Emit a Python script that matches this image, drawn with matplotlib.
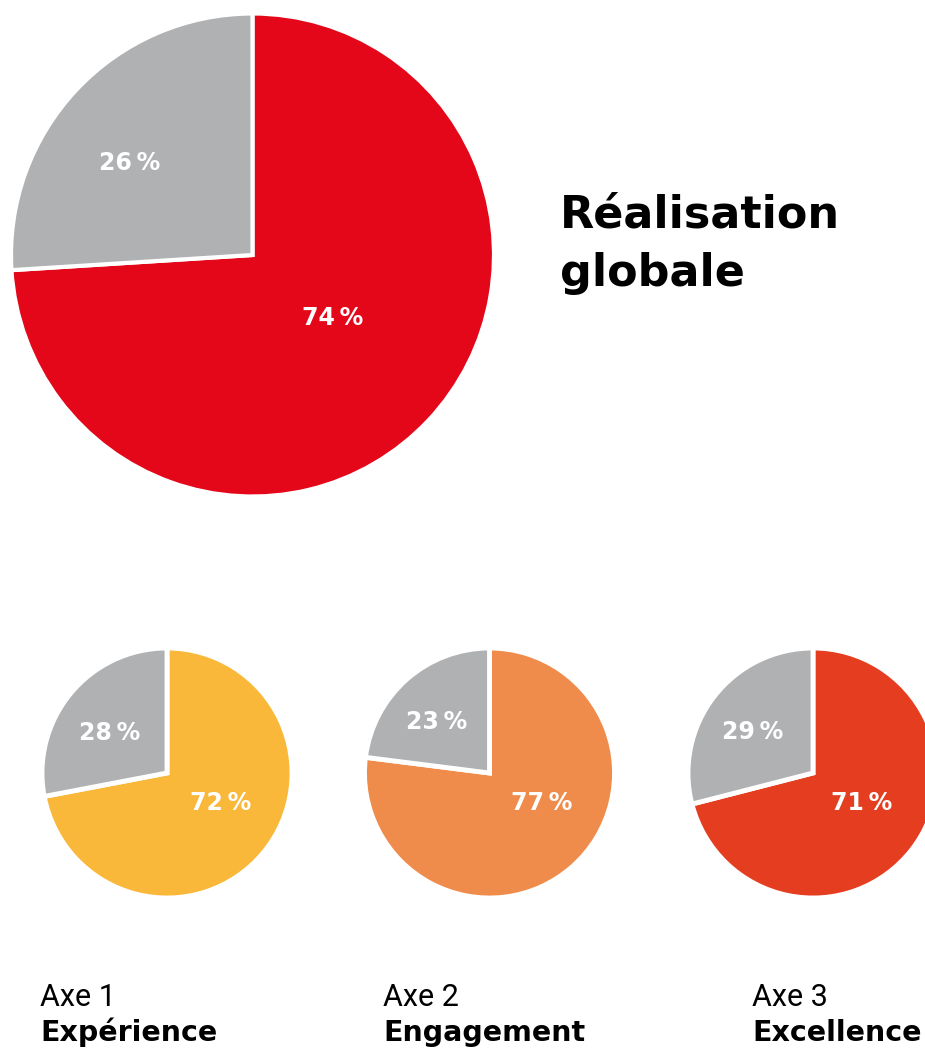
import numpy as np
import matplotlib
matplotlib.use("Agg")
import matplotlib.pyplot as plt

plt.rcParams['font.family'] = ['DejaVu Sans']

# donnees
titre = "Réalisation\nglobale"
global_vals = [74, 26]
axes_noms = ["Axe 1", "Axe 2", "Axe 3"]
axes_titres = ["Expérience", "Engagement", "Excellence"]
axes_vals = [[72, 28], [77, 23], [71, 29]]

GRIS = "#B0B1B3"
couleur_global = "#E30719"
couleurs_axes = ["#FAB83A", "#F08C4B", "#E53D20"]

W, H = 925, 1048
fig = plt.figure(figsize=(W / 100, H / 100), dpi=100)


def pie_ax(cx, cy, r):
    # axes en pixels (origine en haut a gauche)
    return fig.add_axes([(cx - r) / W, 1 - (cy + r) / H, 2 * r / W, 2 * r / H])


def draw_pie(ax, vals, color, lw, label_pos, fs):
    ax.pie(vals, colors=[color, GRIS], startangle=90, counterclock=False,
           radius=1.0, wedgeprops=dict(edgecolor="white", linewidth=lw))
    for v, (x, y) in zip(vals, label_pos):
        ax.text(x, y, f"{v}\u2009%", color="white", fontsize=fs,
                fontweight="bold", ha="center", va="center")
    ax.set_xlim(-1, 1)
    ax.set_ylim(-1, 1)
    ax.set_aspect("equal")
    ax.axis("off")


# grand camembert
ax = pie_ax(252.5, 255, 241.5)
draw_pie(ax, global_vals, couleur_global, 3, [(0.33, -0.26), (-0.51, 0.38)], 17)

fig.text(560 / W, 1 - 244 / H, titre, fontsize=32, fontweight="bold",
         ha="left", va="center", linespacing=1.45)

# petits camemberts
centres = [(167, 773), (489.5, 773), (813, 773)]
lab_pos = [[(0.43, -0.24), (-0.46, 0.32)],
           [(0.42, -0.24), (-0.42, 0.41)],
           [(0.39, -0.24), (-0.48, 0.33)]]
text_x = [40, 383, 752]
for i in range(3):
    cx, cy = centres[i]
    ax = pie_ax(cx, cy, 125)
    draw_pie(ax, axes_vals[i], couleurs_axes[i], 3.5, lab_pos[i], 17)
    fig.text(text_x[i] / W, 1 - 1006 / H, axes_noms[i], fontsize=22,
             fontweight="normal", family=["Roboto", "DejaVu Sans"],
             ha="left", va="baseline")
    fig.text(text_x[i] / W, 1 - 1041 / H, axes_titres[i], fontsize=20.5,
             fontweight="bold", ha="left", va="baseline")

fig.savefig("out.png", dpi=100, facecolor="white")
